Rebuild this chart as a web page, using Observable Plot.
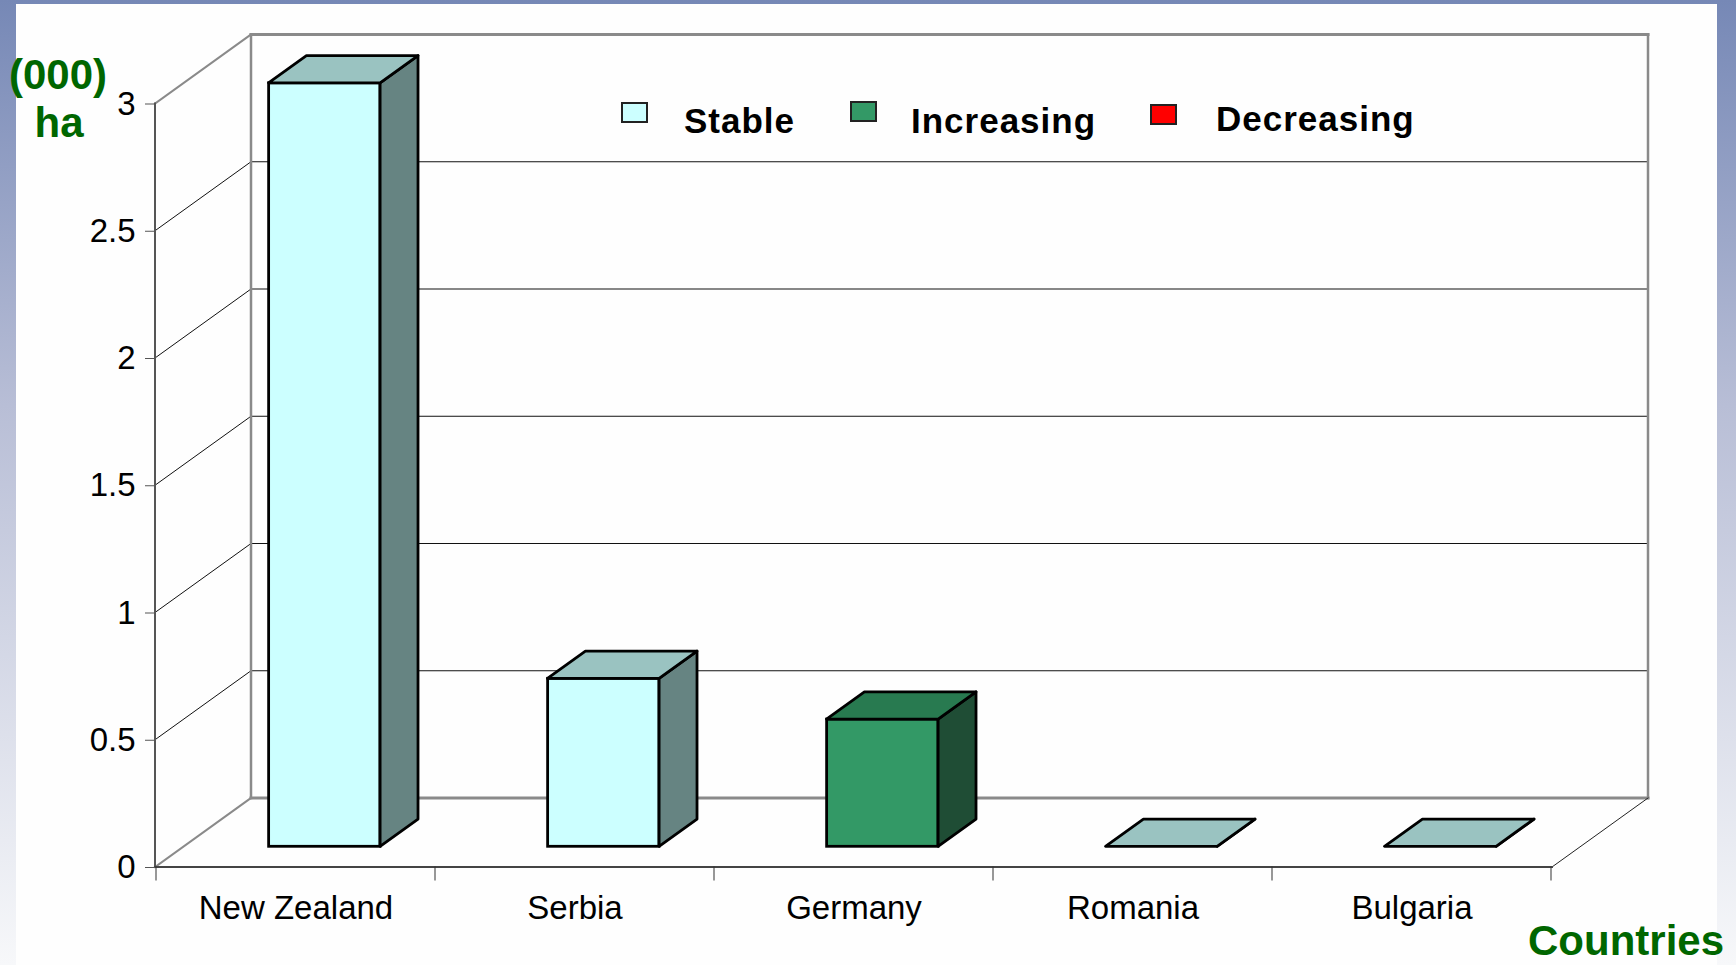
<!DOCTYPE html>
<html>
<head>
<meta charset="utf-8">
<script src="https://cdn.jsdelivr.net/npm/d3@7"></script>
<script src="https://cdn.jsdelivr.net/npm/@observablehq/plot@0.6"></script>
<style>
  html, body { margin: 0; padding: 0; }
  #wrap { position: relative; width: 1736px; height: 965px; overflow: hidden;
    background: linear-gradient(to bottom, #7688B6 0%, #B8BED6 42%, #F7F8FA 100%); }
  #panel { position: absolute; left: 16px; top: 4px; width: 1701px; height: 961px; background: #FEFEFE; }
  #chart { position: absolute; left: 0; top: 0; }
</style>
</head>
<body>
<div id="wrap">
  <div id="panel"></div>
  <div id="chart"></div>
</div>
<script>
// ---- data ----
const countries = ["New Zealand", "Serbia", "Germany", "Romania", "Bulgaria"];
const values = [3.0, 0.66, 0.5, 0, 0];
const trends = ["Stable", "Stable", "Increasing", "Stable", "Stable"];
const trendNames = ["Stable", "Increasing", "Decreasing"];
const frontColors = ["#CCFFFF", "#339966", "#FF0000"];
const topColors = ["#9AC3C1", "#287A50", "#B30000"];
const sideColors = ["#668482", "#1F4D35", "#800000"];
const yTicks = [0, 0.5, 1, 1.5, 2, 2.5, 3];
const yLabelLines = ["(000)", "ha"];
const xLabel = "Countries";

const data = countries.map((country, i) => ({country, value: values[i], trend: trends[i]}));

// ---- layout ----
const W = 1736, H = 965;
const M = {left: 155, right: 184, top: 103.5, bottom: 98};
const depth = {dx: 96, dy: 69};     // wall depth in pixels
const barFront = 0.3, barDepth = 0.395, barFrac = 0.4;
const band = (W - M.left - M.right) / countries.length;
const inset = band * (1 - barFrac) / 2;
const font = "'Liberation Sans', Arial, Helvetica, sans-serif";
const green = "#006600";

function line(g, x1, y1, x2, y2, stroke, w) {
  g.append("line").attr("x1", x1).attr("y1", y1).attr("x2", x2).attr("y2", y2)
    .attr("stroke", stroke).attr("stroke-width", w).attr("stroke-linecap", "square");
}

// back walls, floor, gridlines
function walls(index, scales, vals, dims) {
  const {x, y} = scales;
  const x0 = dims.marginLeft, x1 = dims.width - dims.marginRight;
  const top = d3.max(yTicks), y0 = y(0), yT = y(top);
  const {dx, dy} = depth;
  const g = d3.create("svg:g");
  for (const t of yTicks) {
    if (t === 0 || t === top) continue;
    const yy = y(t);
    line(g, x0, yy, x0 + dx, yy - dy, "#111", 1);
    line(g, x0 + dx, yy - dy, x1 + dx, yy - dy, "#111", 1);
  }
  line(g, x0, yT, x0 + dx, yT - dy, "#8a8a8a", 2);
  line(g, x0, y0, x0 + dx, y0 - dy, "#8a8a8a", 2);
  line(g, x0 + dx, yT - dy, x1 + dx, yT - dy, "#8a8a8a", 3);
  line(g, x0 + dx, y0 - dy, x1 + dx, y0 - dy, "#8a8a8a", 3);
  line(g, x0 + dx, yT - dy, x0 + dx, y0 - dy, "#8a8a8a", 2.5);
  line(g, x1 + dx, yT - dy, x1 + dx, y0 - dy, "#8a8a8a", 2.5);
  line(g, x1, y0, x1 + dx, y0 - dy, "#222", 1);
  line(g, x0, y0, x0, yT, "#555", 2);
  line(g, x0, y0, x1, y0, "#444", 2);
  const edges = countries.map(c => x(c)).concat([x(countries[countries.length - 1]) + x.bandwidth()]);
  for (const e of edges) line(g, e, y0, e, y0 + 13, "#333", 1);
  return g.node();
}

// top and side faces of each bar
function barFaces(index, scales) {
  const {x, y} = scales;
  const bw = x.bandwidth(), w = bw * barFrac;
  const fdx = depth.dx * barFront, fdy = depth.dy * barFront;
  const ddx = depth.dx * barDepth, ddy = depth.dy * barDepth;
  const g = d3.create("svg:g").attr("stroke", "black").attr("stroke-width", 2.8).attr("stroke-linejoin", "round");
  for (const d of data) {
    const k = trendNames.indexOf(d.trend);
    const left = x(d.country) + (bw - w) / 2 + fdx, right = left + w;
    const yt = y(d.value) - fdy, yb = y(0) - fdy;
    const pts = p => p.map(q => q.join(",")).join(" ");
    g.append("polygon").attr("fill", sideColors[k])
      .attr("points", pts([[right, yt], [right + ddx, yt - ddy], [right + ddx, yb - ddy], [right, yb]]));
    g.append("polygon").attr("fill", topColors[k])
      .attr("points", pts([[left, yt], [right, yt], [right + ddx, yt - ddy], [left + ddx, yt - ddy]]));
  }
  return g.node();
}

// legend inside the plot and axis titles
function decorations(index, scales) {
  const g = d3.create("svg:g").attr("font-family", font).attr("text-anchor", "start");
  const items = [
    {sx: 622, sy: 103, tx: 684, ty: 133},
    {sx: 851, sy: 102, tx: 911, ty: 133},
    {sx: 1151, sy: 105, tx: 1216, ty: 131}
  ];
  trendNames.forEach((name, i) => {
    const it = items[i];
    g.append("rect").attr("x", it.sx).attr("y", it.sy).attr("width", 25).attr("height", 19)
      .attr("fill", scales.color ? scales.color(name) : frontColors[i])
      .attr("stroke", "#222").attr("stroke-width", 2);
    g.append("text").attr("x", it.tx).attr("y", it.ty).attr("font-size", 35)
      .attr("text-anchor", "start")
      .attr("font-weight", "bold").attr("letter-spacing", 1).attr("fill", "black").text(name);
  });
  const yl = g.append("g").attr("fill", green).attr("font-weight", "bold").attr("font-size", 42).attr("text-anchor", "middle");
  yl.append("text").attr("x", 58).attr("y", 89).text(yLabelLines[0]);
  yl.append("text").attr("x", 59).attr("y", 137).text(yLabelLines[1]);
  g.append("text").attr("x", 1528).attr("y", 955).attr("fill", green).attr("font-weight", "bold")
    .attr("text-anchor", "start").attr("font-size", 42).text(xLabel);
  return g.node();
}

const chart = Plot.plot({
  width: W, height: H,
  marginLeft: M.left, marginRight: M.right, marginTop: M.top, marginBottom: M.bottom,
  style: {background: "transparent", fontFamily: font, color: "black", overflow: "visible"},
  x: {domain: countries, padding: 0},
  y: {domain: [0, d3.max(yTicks)]},
  color: {domain: trendNames, range: frontColors},
  marks: [
    walls,
    Plot.axisY({ticks: yTicks, tickSize: 10, tickPadding: 10, fontSize: 33, label: null, stroke: "#555", tickFormat: d => String(d)}),
    Plot.axisX({tickSize: 0, tickPadding: 28, fontSize: 33, label: null}),
    Plot.barY(data, {
      x: "country", y: "value", fill: "trend", stroke: "black", strokeWidth: 2.8,
      insetLeft: inset, insetRight: inset,
      dx: depth.dx * barFront, dy: -depth.dy * barFront
    }),
    barFaces,
    decorations
  ]
});
document.getElementById("chart").appendChild(chart);
</script>
</body>
</html>
